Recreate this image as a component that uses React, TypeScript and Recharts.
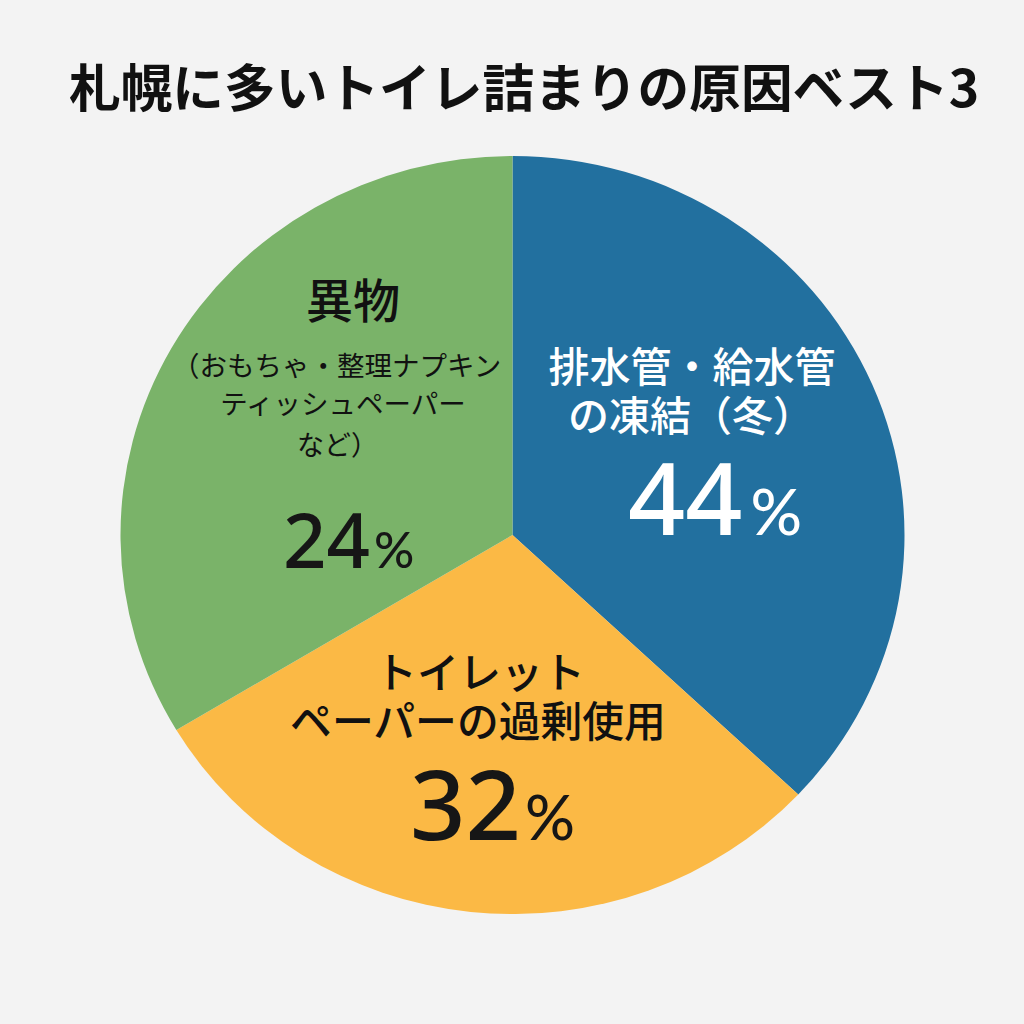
import { Pie, PieChart, Sector } from "recharts";

const title = "札幌に多いトイレ詰まりの原因ベスト3";
const categories = ["排水管・給水管の凍結（冬）", "トイレットペーパーの過剰使用", "異物"];
// printed on the chart
const printedPercents = [44, 32, 24];
// how big the wedges are actually drawn in the picture
const drawnShares = [37.0, 29.4, 33.6];
const colors = ["#22709f", "#fbb945", "#7ab369"];

const data = categories.map((name, i) => ({
  name,
  value: drawnShares[i],
  printed: printedPercents[i],
}));

const JP = '"Noto Sans CJK JP", sans-serif';
const NUM = '"Noto Sans", Lato, sans-serif';
const PCT = 'Lato, "Noto Sans", sans-serif';
const CX = 512.5;
const CY = 535;
const SQUASH = 0.967;

const captions = [
  [
    { text: "排水管・給水管", x: 692, y: 382, size: 41, weight: 500, anchor: "middle" },
    { text: "の凍結（冬）", x: 568, y: 431, size: 41, weight: 500, anchor: "start" },
  ],
  [
    { text: "トイレット", x: 480, y: 688, size: 42, weight: 500, anchor: "middle" },
    { text: "ペーパーの過剰使用", x: 478, y: 737, size: 41.8, weight: 500, anchor: "middle" },
  ],
  [
    { text: "異物", x: 353, y: 318, size: 47, weight: 500, anchor: "middle" },
    { text: "（おもちゃ・整理ナプキン", x: 172, y: 376, size: 27.5, weight: 400, anchor: "start" },
    { text: "ティッシュペーパー", x: 343, y: 414, size: 27.5, weight: 400, anchor: "middle" },
    { text: "など）", x: 297, y: 455, size: 27, weight: 400, anchor: "start" },
  ],
];

const figures = [
  { x: 628, y: 535, size: 100, pct: 64, gap: 8, fill: "#ffffff" },
  { x: 410, y: 840, size: 97, pct: 62, gap: 4, fill: "#161616" },
  { x: 283, y: 568, size: 76, pct: 50, gap: 4, fill: "#161616" },
];

function renderSlice(props: any) {
  // the reference circle is a little flatter than it is wide
  return (
    <g transform={`translate(0 ${CY}) scale(1 ${SQUASH}) translate(0 ${-CY})`}>
      <Sector {...props} stroke="none" />
    </g>
  );
}

function renderLabel({ index, payload }: any) {
  const lines = captions[index];
  const fig = figures[index];
  const textFill = fig.fill;
  return (
    <g key={index}>
      {lines.map((l) => (
        <text
          key={l.text}
          x={l.x}
          y={l.y}
          textAnchor={l.anchor as any}
          fontFamily={JP}
          fontSize={l.size}
          fontWeight={l.weight}
          fill={textFill === "#ffffff" ? "#ffffff" : "#111111"}
        >
          {l.text}
        </text>
      ))}
      <text x={fig.x} y={fig.y} fontFamily={NUM} fill={textFill} fontWeight={500}>
        <tspan fontSize={fig.size}>{payload.printed}</tspan>
        <tspan fontSize={fig.pct} dx={fig.gap} fontFamily={PCT} fontWeight={500}>%</tspan>
      </text>
    </g>
  );
}

export default function App() {
  return (
    <div style={{ position: "absolute", left: 0, top: 0, width: 1024, height: 1024, background: "#f3f3f3", overflow: "hidden" }}>
      <div
        style={{
          position: "absolute",
          left: 0,
          top: 49,
          width: 1024,
          paddingLeft: 69,
          fontFamily: JP,
          fontSize: 51.7,
          fontWeight: 700,
          lineHeight: "72px",
          color: "#111111",
          whiteSpace: "nowrap",
        }}
      >
        {title}
      </div>
      <div style={{ position: "absolute", left: 0, top: 0 }}>
        <PieChart width={1024} height={1024} margin={{ top: 0, right: 0, bottom: 0, left: 0 }}>
          <Pie
            data={data}
            dataKey="value"
            nameKey="name"
            cx={CX}
            cy={CY}
            outerRadius={392}
            startAngle={90}
            endAngle={-270}
            stroke="none"
            shape={(props: any) => renderSlice({ ...props, fill: colors[props.index] })}
            label={renderLabel}
            labelLine={false}
            isAnimationActive={false}
          />
        </PieChart>
      </div>
    </div>
  );
}
